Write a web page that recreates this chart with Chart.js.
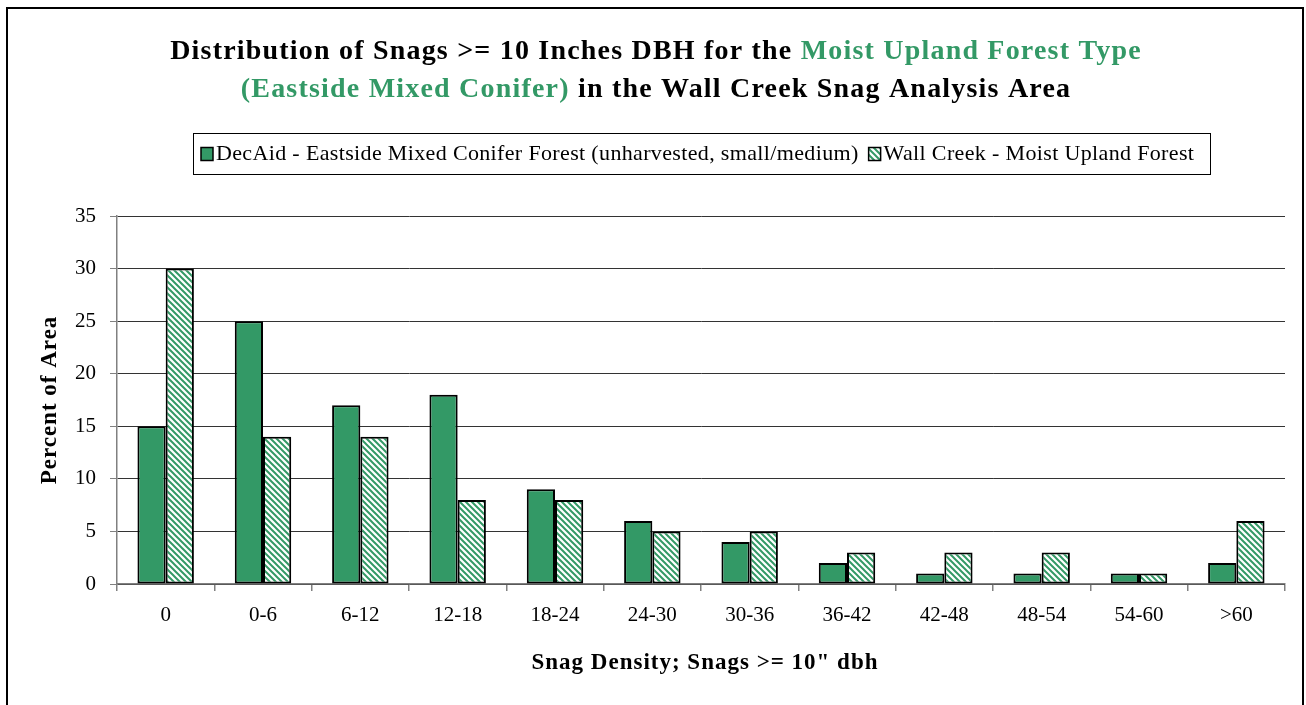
<!DOCTYPE html>
<html>
<head>
<meta charset="utf-8">
<script src="https://cdn.jsdelivr.net/npm/chart.js@4.4.1/dist/chart.umd.min.js"></script>
<style>
  html, body { margin: 0; padding: 0; background: #ffffff; }
  #wrap { width: 1306px; height: 705px; position: relative; }
</style>
</head>
<body>
<div id="wrap"><canvas id="chart" width="1306" height="705"></canvas></div>
<script>
// Snag density classes (snags >= 10" dbh per acre)
const categories = ['0', '0-6', '6-12', '12-18', '18-24', '24-30', '30-36', '36-42', '42-48', '48-54', '54-60', '>60'];
// Percent of area, DecAid reference distribution
const decAidValues = [15, 25, 17, 18, 9, 6, 4, 2, 1, 1, 1, 2];
// Percent of area, Wall Creek moist upland forest
const wallCreekValues = [30, 14, 14, 8, 8, 5, 5, 3, 3, 3, 1, 6];
const seriesNames = ['DecAid - Eastside Mixed Conifer Forest (unharvested, small/medium)', 'Wall Creek - Moist Upland Forest'];
const yTicks = [0, 5, 10, 15, 20, 25, 30, 35];

const GREEN = '#339966';
const SERIF = '"Liberation Serif", "Times New Roman", serif';

// Diagonal hatch fill for the second series
function makeHatch() {
  const s = 6;
  const c = document.createElement('canvas');
  c.width = s; c.height = s;
  const g = c.getContext('2d');
  g.fillStyle = '#ffffff';
  g.fillRect(0, 0, s, s);
  g.strokeStyle = GREEN;
  g.lineWidth = 2;
  g.beginPath();
  g.moveTo(-1, -1); g.lineTo(s + 1, s + 1);
  g.moveTo(-1, s - 1); g.lineTo(1, s + 1);
  g.moveTo(s - 1, -1); g.lineTo(s + 1, 1);
  g.stroke();
  return g.createPattern(c, 'repeat');
}
const hatch = makeHatch();

// Title, legend box, axis titles and outer frame
const decorations = {
  id: 'decorations',
  afterDraw(chart) {
    const ctx = chart.ctx;
    const area = chart.chartArea;
    ctx.save();

    // outer frame
    ctx.strokeStyle = '#000000';
    ctx.lineWidth = 2;
    ctx.strokeRect(7, 8, 1296, 710);

    // two-line title with coloured spans
    ctx.font = 'bold 28px ' + SERIF;
    ctx.letterSpacing = '1.2px';
    ctx.textBaseline = 'alphabetic';
    ctx.textAlign = 'left';
    const lines = [
      [['Distribution of Snags >= 10 Inches DBH for the ', '#000000'], ['Moist Upland Forest Type', GREEN]],
      [['(Eastside Mixed Conifer)', GREEN], [' in the Wall Creek Snag Analysis Area', '#000000']]
    ];
    const baselines = [59, 97];
    lines.forEach((parts, i) => {
      const total = parts.reduce((w, p) => w + ctx.measureText(p[0]).width, 0);
      let x = 656 - total / 2;
      parts.forEach(p => {
        ctx.fillStyle = p[1];
        ctx.fillText(p[0], x, baselines[i]);
        x += ctx.measureText(p[0]).width;
      });
    });

    // legend box
    ctx.font = '22px ' + SERIF;
    ctx.letterSpacing = '0.35px';
    const box = { x: 193, y: 133, w: 1017, h: 41 };
    ctx.fillStyle = '#ffffff';
    ctx.fillRect(box.x, box.y, box.w, box.h);
    ctx.strokeStyle = '#000000';
    ctx.lineWidth = 1;
    ctx.strokeRect(box.x + 0.5, box.y + 0.5, box.w, box.h);
    const fills = [GREEN, hatch];
    let lx = 201;
    const ly = box.y + box.h / 2;
    chart.data.datasets.forEach((ds, i) => {
      ctx.fillStyle = fills[i];
      ctx.fillRect(lx, ly - 6, 12, 13);
      ctx.strokeStyle = '#000000';
      ctx.lineWidth = 1.5;
      ctx.strokeRect(lx, ly - 6, 12, 13);
      ctx.fillStyle = '#000000';
      ctx.textBaseline = 'middle';
      ctx.fillText(ds.label, lx + 15, ly + 1);
      lx += 15 + ctx.measureText(ds.label).width + 10;
    });

    // axis titles
    ctx.font = 'bold 23px ' + SERIF;
    ctx.letterSpacing = '1px';
    ctx.fillStyle = '#000000';
    ctx.textAlign = 'center';
    ctx.textBaseline = 'middle';
    ctx.fillText('Snag Density; Snags >= 10" dbh', (area.left + area.right) / 2 + 4, 663);
    ctx.translate(50, (area.top + area.bottom) / 2);
    ctx.rotate(-Math.PI / 2);
    ctx.fillText('Percent of Area', 0, 0);
    ctx.restore();
  }
};

new Chart(document.getElementById('chart'), {
  type: 'bar',
  data: {
    labels: categories,
    datasets: [
      { label: seriesNames[0], data: decAidValues, backgroundColor: GREEN, borderColor: '#000000', borderWidth: 2, borderSkipped: false },
      { label: seriesNames[1], data: wallCreekValues, backgroundColor: hatch, borderColor: '#000000', borderWidth: 2, borderSkipped: false }
    ]
  },
  options: {
    responsive: false,
    animation: false,
    devicePixelRatio: 1,
    layout: { padding: { left: 0, right: 21, top: 216, bottom: 0 } },
    datasets: { bar: { categoryPercentage: 0.58, barPercentage: 1.0 } },
    plugins: { legend: { display: false }, title: { display: false }, tooltip: { enabled: false } },
    scales: {
      x: {
        grid: { display: true, offset: true, drawOnChartArea: false, drawTicks: true, tickLength: 7, color: '#808080', lineWidth: 1.5 },
        border: { display: true, color: '#808080', width: 1.5 },
        ticks: { color: '#000000', font: { family: SERIF, size: 21 }, padding: 12, maxRotation: 0, autoSkip: false },
        afterFit(scale) { scale.height = 121; }
      },
      y: {
        min: 0, max: 35,
        afterBuildTicks(scale) { scale.ticks = yTicks.map(v => ({ value: v })); },
        grid: { color: '#333333', lineWidth: 1, drawTicks: true, tickLength: 7, tickColor: '#808080' },
        border: { display: true, color: '#808080', width: 1.5 },
        ticks: { color: '#000000', font: { family: SERIF, size: 21 }, padding: 14 },
        afterFit(scale) { scale.width = 117; }
      }
    }
  },
  plugins: [decorations]
});
</script>
</body>
</html>
